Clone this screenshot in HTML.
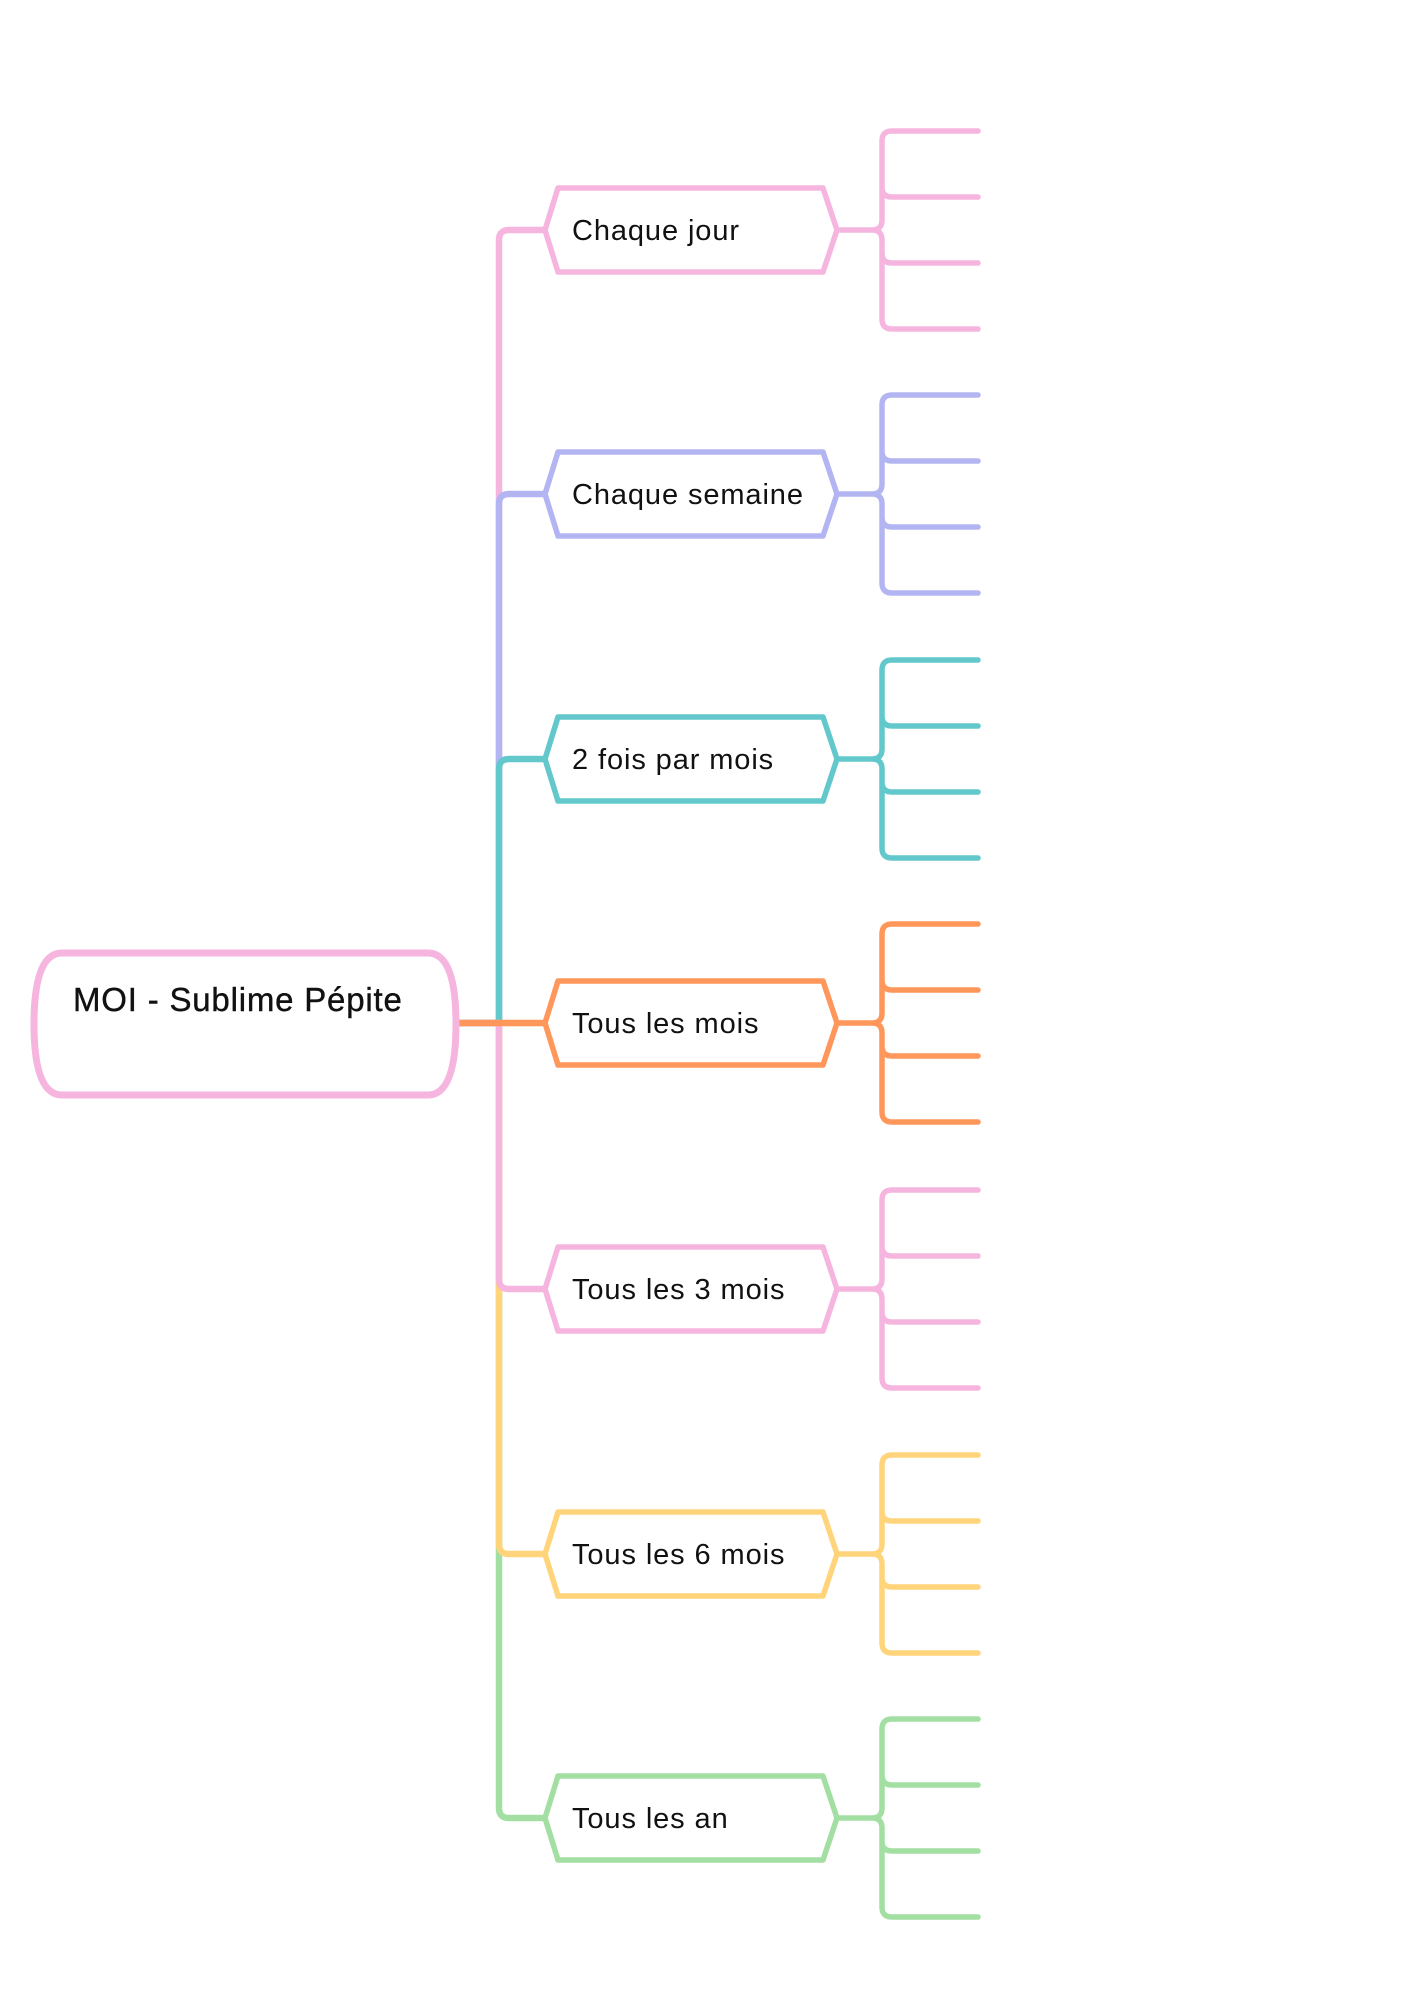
<!DOCTYPE html>
<html><head><meta charset="utf-8"><style>
html,body{margin:0;padding:0;background:#fff;}
svg{display:block;}
text{font-family:"Liberation Sans",sans-serif;fill:#111;}
</style></head><body>
<svg width="1414" height="2000" viewBox="0 0 1414 2000" xmlns="http://www.w3.org/2000/svg">
<g fill="none" stroke-width="6.5" stroke-linecap="round" stroke-linejoin="round">
<path d="M456 1023 H499 V240 Q499 230 509 230 H545" stroke="#F5B5DF"/>
<path d="M456 1023 H499 V1808 Q499 1818 509 1818 H545" stroke="#A3DFA3"/>
<path d="M456 1023 H499 V504 Q499 494 509 494 H545" stroke="#B3B5F3"/>
<path d="M456 1023 H499 V1544 Q499 1554 509 1554 H545" stroke="#FFD47A"/>
<path d="M456 1023 H499 V769 Q499 759 509 759 H545" stroke="#62C8CC"/>
<path d="M456 1023 H499 V1279 Q499 1289 509 1289 H545" stroke="#F5B5DF"/>
<path d="M456 1023 H545" stroke="#FF965A"/>
</g>
<path d="M62 953 H428 Q456 953 456 1024 Q456 1095 428 1095 H62 Q34 1095 34 1024 Q34 953 62 953 Z" fill="#fff" stroke="#F5B5DF" stroke-width="7"/>
<text x="73" y="1011" font-size="33" letter-spacing="0.8" stroke="#111" stroke-width="0.4">MOI - Sublime Pépite</text>

<g stroke-width="5.5" stroke-linecap="round" stroke-linejoin="round">
<g stroke="#F5B5DF" transform="translate(0,230)">
<path d="M545 0 L558 -42 H823 L837 0 L823 42 H558 Z" fill="#fff"/>
<path d="M837 0 H872 Q882 0 882 -10 V-89 Q882 -99 892 -99 H978 M882 -10 V-43 Q882 -33 892 -33 H978 M872 0 Q882 0 882 10 V89 Q882 99 892 99 H978 M882 23 Q882 33 892 33 H978" fill="none"/>
<text x="572" y="10" font-size="29" letter-spacing="0.9" stroke="none">Chaque jour</text>
</g>
<g stroke="#B3B5F3" transform="translate(0,494)">
<path d="M545 0 L558 -42 H823 L837 0 L823 42 H558 Z" fill="#fff"/>
<path d="M837 0 H872 Q882 0 882 -10 V-89 Q882 -99 892 -99 H978 M882 -10 V-43 Q882 -33 892 -33 H978 M872 0 Q882 0 882 10 V89 Q882 99 892 99 H978 M882 23 Q882 33 892 33 H978" fill="none"/>
<text x="572" y="10" font-size="29" letter-spacing="0.9" stroke="none">Chaque semaine</text>
</g>
<g stroke="#62C8CC" transform="translate(0,759)">
<path d="M545 0 L558 -42 H823 L837 0 L823 42 H558 Z" fill="#fff"/>
<path d="M837 0 H872 Q882 0 882 -10 V-89 Q882 -99 892 -99 H978 M882 -10 V-43 Q882 -33 892 -33 H978 M872 0 Q882 0 882 10 V89 Q882 99 892 99 H978 M882 23 Q882 33 892 33 H978" fill="none"/>
<text x="572" y="10" font-size="29" letter-spacing="0.9" stroke="none">2 fois par mois</text>
</g>
<g stroke="#FF965A" transform="translate(0,1023)">
<path d="M545 0 L558 -42 H823 L837 0 L823 42 H558 Z" fill="#fff"/>
<path d="M837 0 H872 Q882 0 882 -10 V-89 Q882 -99 892 -99 H978 M882 -10 V-43 Q882 -33 892 -33 H978 M872 0 Q882 0 882 10 V89 Q882 99 892 99 H978 M882 23 Q882 33 892 33 H978" fill="none"/>
<text x="572" y="10" font-size="29" letter-spacing="0.9" stroke="none">Tous les mois</text>
</g>
<g stroke="#F5B5DF" transform="translate(0,1289)">
<path d="M545 0 L558 -42 H823 L837 0 L823 42 H558 Z" fill="#fff"/>
<path d="M837 0 H872 Q882 0 882 -10 V-89 Q882 -99 892 -99 H978 M882 -10 V-43 Q882 -33 892 -33 H978 M872 0 Q882 0 882 10 V89 Q882 99 892 99 H978 M882 23 Q882 33 892 33 H978" fill="none"/>
<text x="572" y="10" font-size="29" letter-spacing="0.9" stroke="none">Tous les 3 mois</text>
</g>
<g stroke="#FFD47A" transform="translate(0,1554)">
<path d="M545 0 L558 -42 H823 L837 0 L823 42 H558 Z" fill="#fff"/>
<path d="M837 0 H872 Q882 0 882 -10 V-89 Q882 -99 892 -99 H978 M882 -10 V-43 Q882 -33 892 -33 H978 M872 0 Q882 0 882 10 V89 Q882 99 892 99 H978 M882 23 Q882 33 892 33 H978" fill="none"/>
<text x="572" y="10" font-size="29" letter-spacing="0.9" stroke="none">Tous les 6 mois</text>
</g>
<g stroke="#A3DFA3" transform="translate(0,1818)">
<path d="M545 0 L558 -42 H823 L837 0 L823 42 H558 Z" fill="#fff"/>
<path d="M837 0 H872 Q882 0 882 -10 V-89 Q882 -99 892 -99 H978 M882 -10 V-43 Q882 -33 892 -33 H978 M872 0 Q882 0 882 10 V89 Q882 99 892 99 H978 M882 23 Q882 33 892 33 H978" fill="none"/>
<text x="572" y="10" font-size="29" letter-spacing="0.9" stroke="none">Tous les an</text>
</g>
</g>
</svg>
</body></html>
